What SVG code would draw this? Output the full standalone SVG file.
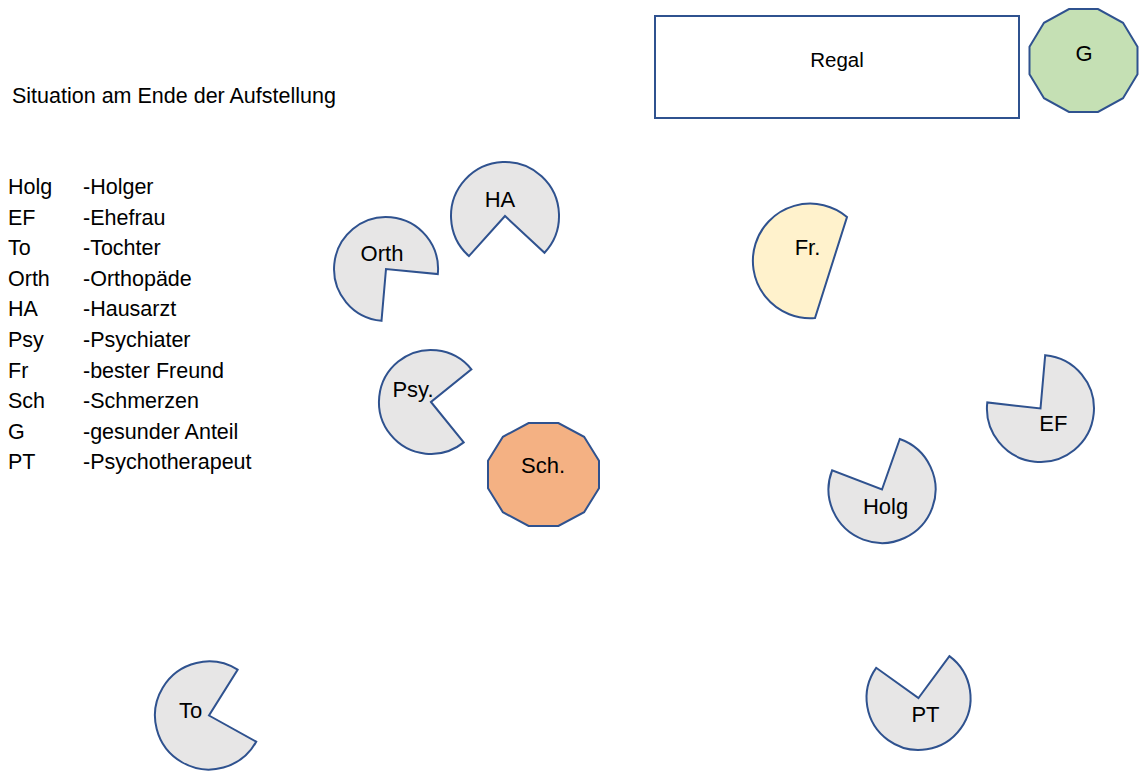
<svg xmlns="http://www.w3.org/2000/svg" width="1139" height="771" viewBox="0 0 1139 771">
<style>
text{font-family:"Liberation Sans",Arial,sans-serif;fill:#000}
.t{font-size:21.5px}
.lbl{font-size:22px;text-anchor:middle}
.shape{stroke:#2F528F;stroke-width:2;stroke-linejoin:miter}
.grey{fill:#E7E6E6}
</style>
<rect width="1139" height="771" fill="#fff"/>
<text class="t" x="12" y="103">Situation am Ende der Aufstellung</text>
<g id="legend" class="t">
<text x="8" y="194">Holg</text><text x="83" y="194">-Holger</text>
<text x="8" y="224.6">EF</text><text x="83" y="224.6">-Ehefrau</text>
<text x="8" y="255.2">To</text><text x="83" y="255.2">-Tochter</text>
<text x="8" y="285.8">Orth</text><text x="83" y="285.8">-Orthopäde</text>
<text x="8" y="316.4">HA</text><text x="83" y="316.4">-Hausarzt</text>
<text x="8" y="347">Psy</text><text x="83" y="347">-Psychiater</text>
<text x="8" y="377.6">Fr</text><text x="83" y="377.6">-bester Freund</text>
<text x="8" y="408.2">Sch</text><text x="83" y="408.2">-Schmerzen</text>
<text x="8" y="438.8">G</text><text x="83" y="438.8">-gesunder Anteil</text>
<text x="8" y="469.4">PT</text><text x="83" y="469.4">-Psychotherapeut</text>
</g>
<g id="regal">
<rect class="shape" x="655" y="16" width="364" height="102" fill="#fff"/>
<text x="837" y="66.5" font-size="20.5" text-anchor="middle">Regal</text>
</g>
<g id="G">
<polygon class="shape" fill="#C5E0B4" points="1137.5,46.7 1137.5,74.3 1123,98.2 1098,112 1069,112 1044,98.2 1029.5,74.3 1029.5,46.7 1044,22.8 1069,9 1098,9 1123,22.8"/>
<text class="lbl" x="1084" y="61" font-size="21">G</text>
</g>
<g id="HA">
<path class="shape grey" d="M505,216 L468.9,256.1 A54,54 0 1 1 544.5,252.8 Z"/>
<text class="lbl" x="500" y="206.7">HA</text>
</g>
<g id="Orth">
<path class="shape grey" d="M386,269 L381.5,320.8 A52,52 0 1 1 437.8,274.1 Z"/>
<text class="lbl" x="382" y="261">Orth</text>
</g>
<g id="Psy">
<path class="shape grey" d="M431,402 L463.7,442.4 A52,52 0 1 1 471.4,369.3 Z"/>
<text class="lbl" x="413" y="396.7">Psy.</text>
</g>
<g id="Sch">
<polygon class="shape" fill="#F4B183" points="599,460.7 599,488.3 584.1,512.2 558.4,526 528.6,526 502.9,512.2 488,488.3 488,460.7 502.9,436.8 528.6,423 558.4,423 584.1,436.8"/>
<text class="lbl" x="543" y="473" font-size="19.5">Sch.</text>
</g>
<g id="Fr">
<path class="shape" fill="#FFF2CC" d="M847,217 A57.3,57.3 0 1 0 815,318 Z"/>
<text class="lbl" x="807.5" y="255">Fr.</text>
</g>
<g id="EF">
<path class="shape grey" d="M1040.5,408.5 L1045.2,355.2 A53.5,53.5 0 1 1 987.3,402.4 Z"/>
<text class="lbl" x="1053.3" y="430.7">EF</text>
</g>
<g id="Holg">
<path class="shape grey" d="M882,489.5 L899.8,439 A53.5,53.5 0 1 1 832.1,470.3 Z"/>
<text class="lbl" x="885.5" y="514">Holg</text>
</g>
<g id="To">
<path class="shape grey" d="M209,715.5 L256.2,741.7 A54,54 0 1 1 237.6,669.7 Z"/>
<text class="lbl" x="190.5" y="718.3">To</text>
</g>
<g id="PT">
<path class="shape grey" d="M918.5,698 L949.4,656.1 A52,52 0 1 1 876.2,667.8 Z"/>
<text class="lbl" x="925.5" y="721.7">PT</text>
</g>
<g id="connectors"></g>
</svg>
